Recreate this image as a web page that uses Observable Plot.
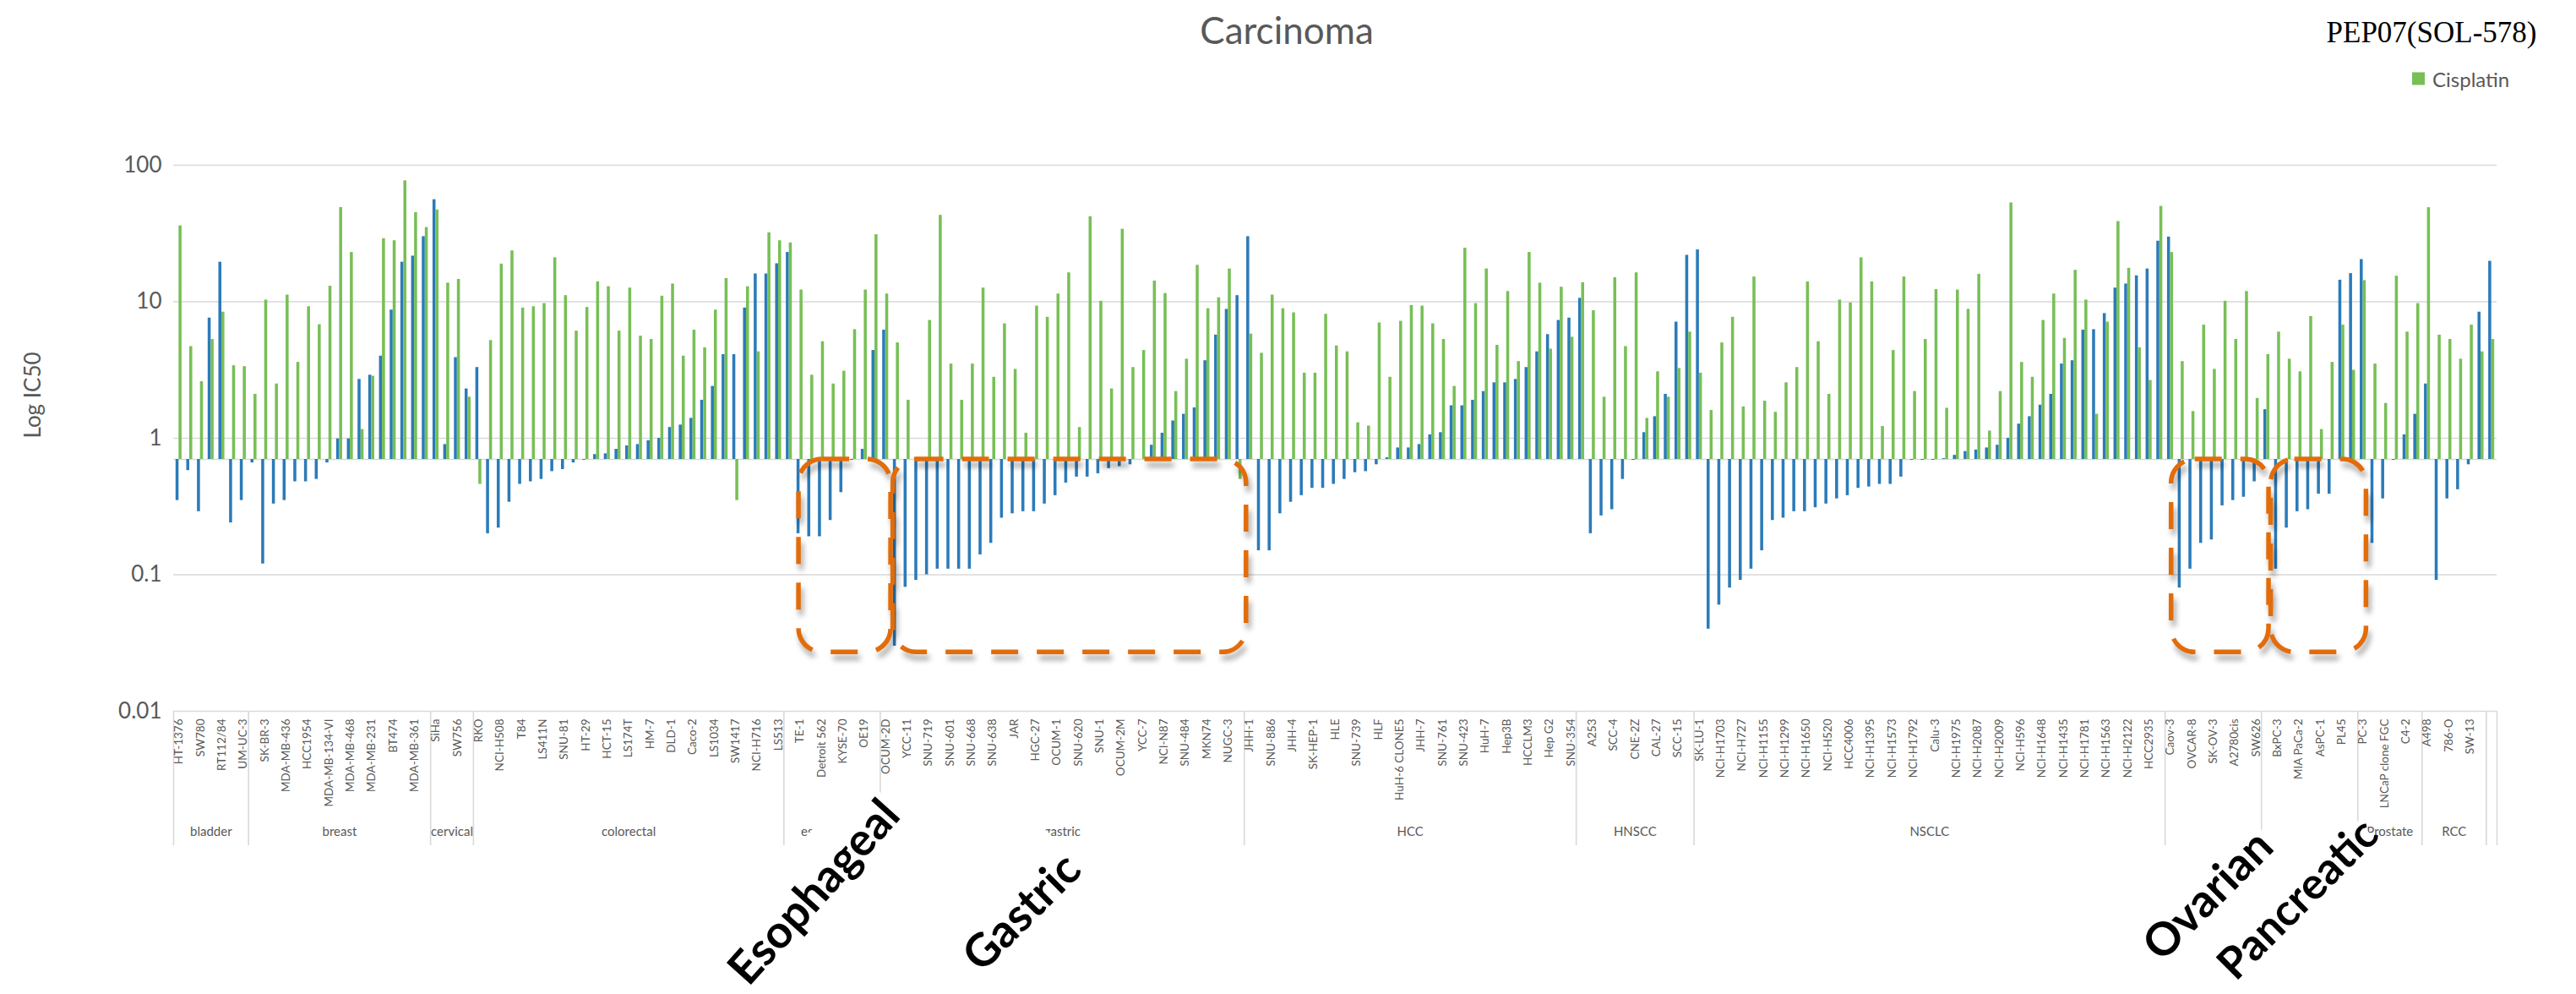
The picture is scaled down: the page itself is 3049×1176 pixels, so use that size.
<!DOCTYPE html>
<html><head><meta charset="utf-8">
<script src="https://cdn.jsdelivr.net/npm/d3@7"></script>
<script src="https://cdn.jsdelivr.net/npm/@observablehq/plot@0.6"></script>
<style>
body{margin:0;background:#fff;}
#wrap{position:relative;width:3049px;height:1176px;overflow:hidden;font-family:Lato,"Open Sans",sans-serif;background:#fff;}
#chart{position:absolute;left:0;top:0;}
.t{position:absolute;white-space:nowrap;}
.title{left:1523px;top:35px;transform:translate(-50%,-50%);font-size:44px;color:#595959;}
.pep{left:2878px;top:39px;transform:translate(-50%,-50%);font-family:"Liberation Serif","DejaVu Serif",serif;font-size:35px;color:#000;}
.leg{left:2855px;top:93px;transform:translateY(-50%);font-size:24px;color:#595959;display:flex;align-items:center;gap:9px;}
.leg i{display:inline-block;width:15px;height:15px;background:#78bf56;}
.anno{position:absolute;width:0;height:0;}
.anno span{position:absolute;left:0;top:0;transform:translate(-50%,-50%);white-space:nowrap;font-weight:700;font-size:54px;line-height:1;color:#000;}
.anno span::before{content:"";position:absolute;left:-8px;right:var(--pr,-4px);top:var(--pt,-24px);bottom:-12px;background:#fff;z-index:-1;}
g[aria-description="annotation-box"]{filter:drop-shadow(3px 7px 3px rgba(0,0,0,0.35));}
</style></head>
<body>
<div id="wrap">
  <div id="chart"></div>
  <div class="t title">Carcinoma</div>
  <div class="t pep">PEP07(SOL-578)</div>
  <div class="t leg"><i></i><span>Cisplatin</span></div>
  <div class="anno" style="left:962px;top:1054px;transform:rotate(-48deg);"><span style="--pt:-22px">Esophageal</span></div>
  <div class="anno" style="left:1208px;top:1078px;transform:rotate(-45deg);"><span style="--pt:-26px">Gastric</span></div>
  <div class="anno" style="left:2718px;top:1062px;transform:rotate(-45deg);"><span style="--pt:-46px;--pr:6px;font-size:52px">Pancreatic</span></div>
  <div class="anno" style="left:2612px;top:1058px;transform:rotate(-45deg);"><span style="--pt:-38px">Ovarian</span></div>
</div>
<script>
// ---- data ----
const groupNames = ["bladder","breast","cervical","colorectal","esophageal","gastric","HCC","HNSCC","NSCLC","ovarian","pancreatic","Prostate","RCC",""];
const groupSizes = [7,17,4,29,9,34,31,11,44,9,9,6,6,1];

// every second cell line is labelled on the axis (as in the original)
const cellLineLabels = ["HT-1376","SW780","RT112/84","UM-UC-3","SK-BR-3","MDA-MB-436","HCC1954","MDA-MB-134-VI","MDA-MB-468","MDA-MB-231","BT474","MDA-MB-361",
"SiHa","SW756","RKO","NCI-H508","T84","LS411N","SNU-81","HT-29","HCT-15","LS174T","HM-7","DLD-1","Caco-2","LS1034","SW1417","NCI-H716","LS513",
"TE-1","Detroit 562","KYSE-70","OE19","OCUM-2D","YCC-11","SNU-719","SNU-601","SNU-668","SNU-638","JAR","HGC-27","OCUM-1","SNU-620","SNU-1","OCUM-2M","YCC-7","NCI-N87","SNU-484","MKN74","NUGC-3",
"JHH-1","SNU-886","JHH-4","SK-HEP-1","HLE","SNU-739","HLF","HuH-6 CLONE5","JHH-7","SNU-761","SNU-423","HuH-7","Hep3B","HCCLM3","Hep G2","SNU-354",
"A253","SCC-4","CNE-2Z","CAL-27","SCC-15",
"SK-LU-1","NCI-H1703","NCI-H727","NCI-H1155","NCI-H1299","NCI-H1650","NCI-H520","HCC4006","NCI-H1395","NCI-H1573","NCI-H1792","Calu-3","NCI-H1975","NCI-H2087","NCI-H2009","NCI-H596","NCI-H1648","NCI-H1435","NCI-H1781","NCI-H1563","NCI-H2122","HCC2935",
"Caov-3","OVCAR-8","SK-OV-3","A2780cis","SW626","BxPC-3","MIA PaCa-2","AsPC-1","PL45","PC-3","LNCaP clone FGC","C4-2","A498","786-O","SW-13",""];

const yTicks = [100,10,1,0.1,0.01];
const baseline = 0.7;

const pep07 = [0.35,0.58,0.29,7.6,19.5,0.24,0.35,
0.66,0.12,0.33,0.35,0.48,0.48,0.50,0.66,0.99,0.99,2.7,2.9,4.0,8.7,19.5,21.6,30,
56,0.90,3.9,2.3,
3.3,0.20,0.22,0.34,0.46,0.48,0.50,0.57,0.59,0.66,0.69,0.76,0.77,0.83,0.88,0.90,0.96,1.0,1.2,1.25,1.4,1.9,2.4,4.1,4.1,9.0,16,16,19,
23,0.2,0.19,0.19,0.25,0.40,0.69,0.83,4.4,
6.2,0.030,0.081,0.091,0.10,0.11,0.11,0.11,0.11,0.14,0.17,0.26,0.28,0.29,0.29,0.33,0.38,0.47,0.52,0.52,0.55,0.60,0.62,0.64,0.70,0.89,1.09,1.34,1.5,1.67,3.7,5.7,8.8,11.1,
30,0.15,0.15,0.28,0.34,0.38,0.43,0.43,0.46,0.50,0.56,0.57,0.64,0.72,0.85,0.85,0.90,1.06,1.1,1.73,1.73,1.9,2.2,2.55,2.55,2.7,3.3,4.3,5.75,7.3,7.6,
10.6,0.20,0.27,0.30,0.50,0.69,1.1,1.44,2.1,7.1,21.9,
24,0.040,0.060,0.080,0.091,0.11,0.15,0.25,0.26,0.29,0.29,0.31,0.33,0.36,0.38,0.43,0.44,0.46,0.46,0.52,0.69,0.69,0.69,0.71,0.75,0.80,0.82,0.85,0.89,1.0,1.27,1.44,1.75,2.1,3.5,3.7,6.2,6.25,8.2,12.6,13.5,15.5,17.4,27.8,
29.8,0.080,0.11,0.17,0.18,0.32,0.35,0.37,0.48,
1.62,0.11,0.22,0.29,0.30,0.39,0.39,14.4,16.1,
20.4,0.17,0.36,0.69,1.06,1.5,
2.5,0.091,0.36,0.42,0.64,8.4,
19.8];

const cisplatin = [36,4.7,2.6,5.3,8.4,3.4,3.35,
2.1,10.3,2.5,11.2,3.6,9.2,6.8,13,49,23,1.16,2.85,29,28,77,45,35,
47,13.7,14.6,2.0,
0.46,5.2,18.9,23.6,9.0,9.2,9.7,21,11.1,6.1,9.1,14,12.9,6.1,12.6,5.6,5.3,11,13.5,4.0,6.2,4.6,8.7,14.8,0.35,12.9,4.3,32,28,
27,12.2,2.9,5.1,2.5,3.1,6.25,12.2,31,
11.4,5.0,1.9,0.69,7.3,43,3.5,1.9,3.5,12.6,2.8,6.9,3.2,1.09,9.3,7.7,11.4,16.3,1.2,42,10.1,2.3,34,3.3,4.4,14.2,11.5,2.2,3.8,18.5,8.9,10.7,17.4,0.5,
5.8,4.2,11.2,8.9,8.3,3.0,3.0,8.1,4.75,4.3,1.3,1.23,7.0,2.8,7.2,9.4,9.3,6.9,5.3,2.4,24.7,9.7,17.4,4.8,11.9,3.65,23,13.7,4.5,12.8,5.5,
13.8,8.6,2.0,15,4.7,16.3,1.4,3.07,2.0,3.25,6.0,
3.0,1.6,5.0,7.7,1.7,15.2,1.87,1.55,2.55,3.3,14,5.1,2.1,10.3,9.8,21,14,1.22,4.4,15.2,2.2,5.3,12.3,1.66,12.2,8.8,15.9,1.13,2.2,53,3.6,2.8,7.3,11.4,5.4,17,10.3,1.5,7.1,38.7,17.6,4.6,2.65,50,
23,3.65,1.57,6.75,3.2,10.1,5.3,11.9,1.96,
4.1,6.0,3.8,3.07,7.8,1.16,3.6,6.75,3.15,
14.3,3.5,1.8,15.4,6.0,9.7,
48.9,5.7,5.3,3.8,6.75,4.3,
5.3];

// highlighted regions (slot ranges along the category axis, value range on the log axis)
const highlightNames = ["Esophageal","Gastric","Ovarian","Pancreatic"];
const highlightFrom = [58.4, 67.2, 186.6, 195.9];
const highlightTo   = [67.0, 100.2, 195.7, 204.8];
const highlightLow = 0.027;

// ---- derived ----
const N = pep07.length;
const slots = d3.range(N);
const bounds = [0];
groupSizes.forEach(s => bounds.push(bounds[bounds.length-1] + s));
const groupCenters = groupNames.map((g,k) => bounds[k] + groupSizes[k]/2);
const labelSlots = slots.filter(i => i % 2 === 0);
const boxBottom = 0.01 * Math.pow(10, -159/161.5);

const blue = "#2b7bb9", green = "#78bf56", grid = "#d9d9d9", txt = "#595959";

const chart = Plot.plot({
  width: 3049, height: 1176,
  marginLeft: 205, marginRight: 94, marginTop: 195, marginBottom: 335,
  style: {fontFamily: "Lato, 'Open Sans', sans-serif", background: "transparent"},
  x: {type: "linear", domain: [0, N], axis: null},
  y: {type: "log", domain: [0.01, 100], axis: null},
  marks: [
    Plot.ruleY(yTicks, {stroke: grid, strokeWidth: 1.6}),
    Plot.ruleY([baseline], {stroke: grid, strokeWidth: 1.6}),
    Plot.rect(slots, {x1: i => i + 0.22, x2: i => i + 0.5, y1: () => baseline, y2: i => pep07[i], fill: blue}),
    Plot.rect(slots, {x1: i => i + 0.5, x2: i => i + 0.78, y1: () => baseline, y2: i => cisplatin[i], fill: green}),
    Plot.ruleX(bounds, {y1: () => 0.01, y2: () => boxBottom, stroke: grid, strokeWidth: 1.6}),
    Plot.text(labelSlots, {x: i => i + 0.5, text: i => cellLineLabels[i/2], frameAnchor: "bottom", dy: 9,
      rotate: -90, textAnchor: "end", lineAnchor: "middle", fontSize: 13.5, fill: txt}),
    Plot.text(groupNames, {x: (d, k) => groupCenters[k], text: d => d, frameAnchor: "bottom", dy: 147, fontSize: 15, fill: txt}),
    Plot.text(yTicks, {y: d => d, text: d => String(d), frameAnchor: "left", dx: -14, textAnchor: "end", fontSize: 26, fill: txt}),
    Plot.text(["Log IC50"], {frameAnchor: "left", dx: -166, rotate: -90, fontSize: 26, fill: txt}),
    Plot.rect(highlightNames, {x1: (d, k) => highlightFrom[k], x2: (d, k) => highlightTo[k], y1: () => baseline, y2: () => highlightLow,
      rx: 28, fill: "none", stroke: "#e36c0a", strokeWidth: 5.5, strokeDasharray: "32,22", ariaDescription: "annotation-box"})
  ]
});
document.getElementById("chart").appendChild(chart);
</script>
</body></html>
